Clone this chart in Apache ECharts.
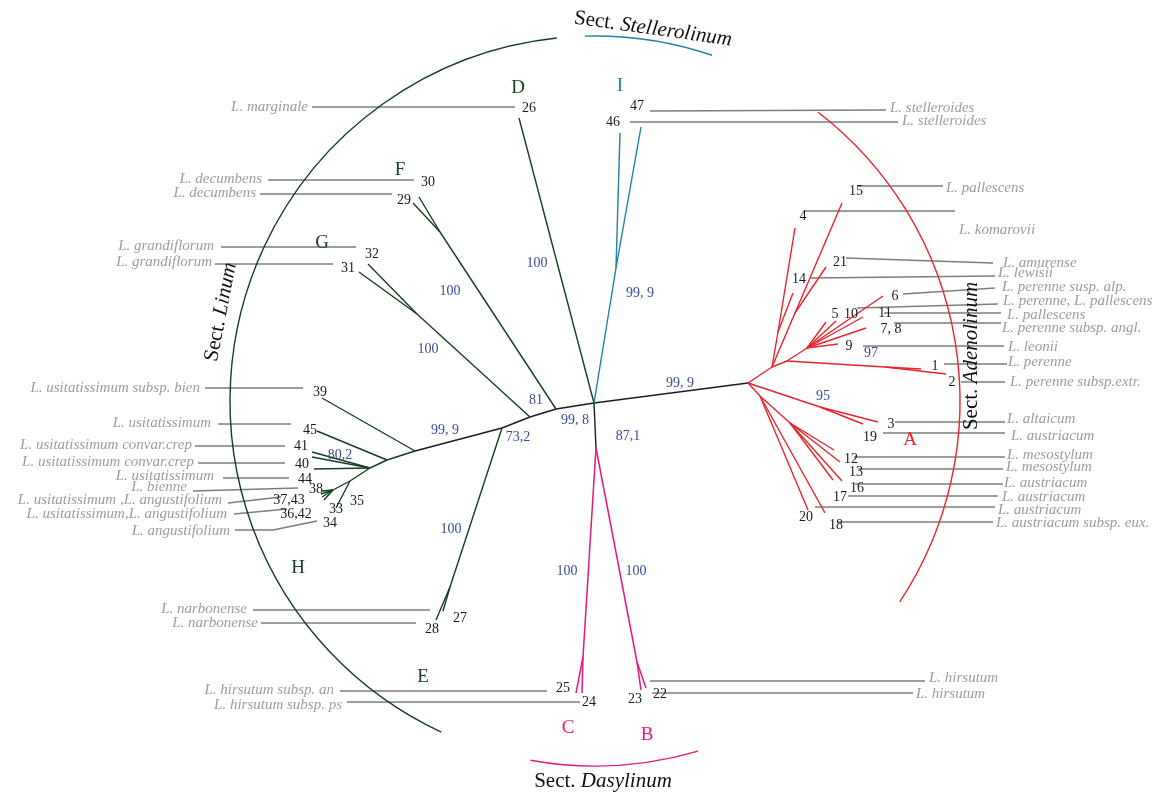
<!DOCTYPE html>
<html>
<head>
<meta charset="utf-8">
<script src="https://cdn.jsdelivr.net/npm/echarts@6/dist/echarts.min.js"></script>
<style>
  html, body { margin: 0; padding: 0; background: #ffffff; }
  #main { width: 1155px; height: 795px; }
</style>
</head>
<body>
<div id="main"></div>
<script>
// ---------- Tree geometry: nodes are [id, x, y] (x to the right, y downward) ----------
const backboneNodes = [
  ['C0', 594, 403], ['L1', 556, 409], ['L2', 530, 417], ['L3', 502, 428],
  ['H0', 415, 451], ['A', 748, 383], ['P', 596, 448]
];
const backboneEdges = [['C0','L1'], ['L1','L2'], ['L2','L3'], ['L3','H0'], ['C0','A'], ['C0','P']];

// Sect. Linum (clades D, E, F, G, H)
const linumNodes = [
  ['T26', 519, 118],
  ['F0', 440, 232], ['T29', 413, 203], ['T30', 419, 197],
  ['G0', 417, 314], ['T31', 359, 272], ['T32', 368, 264],
  ['E0', 450, 587], ['T28', 436, 620], ['T27', 443, 611],
  ['T39', 322, 398], ['H1', 387, 460], ['T45', 317, 431], ['H2', 370, 468],
  ['T41', 312, 452], ['T40', 312, 457], ['T44', 314, 469], ['H3', 350, 481],
  ['H4', 333, 490], ['T35', 336, 508],
  ['T38', 322, 491], ['T37', 321, 494], ['T36', 322, 497], ['T34', 324, 500]
];
const linumEdges = [
  ['C0','T26'], ['L1','F0'], ['F0','T29'], ['F0','T30'],
  ['L2','G0'], ['G0','T31'], ['G0','T32'],
  ['L3','E0'], ['E0','T28'], ['E0','T27'],
  ['H0','T39'], ['H0','H1'], ['H1','T45'], ['H1','H2'],
  ['H2','T41'], ['H2','T40'], ['H2','T44'], ['H2','H3'],
  ['H3','H4'], ['H3','T35'],
  ['H4','T38'], ['H4','T37'], ['H4','T36'], ['H4','T34']
];

// Sect. Stellerolinum (clade I)
const stelleroNodes = [['I0', 616, 268], ['T46', 620, 133], ['T47', 641, 127]];
const stelleroEdges = [['C0','I0'], ['I0','T46'], ['I0','T47']];

// Sect. Dasylinum (clades B, C)
const dasyNodes = [
  ['Cc', 583, 657], ['T25', 576, 693], ['T24', 582, 693],
  ['Bb', 637, 662], ['T23', 641, 690], ['T22', 646, 688]
];
const dasyEdges = [['P','Cc'], ['Cc','T25'], ['Cc','T24'], ['P','Bb'], ['Bb','T23'], ['Bb','T22']];

// Sect. Adenolinum (clade A)
const adenoNodes = [
  ['A1', 772, 367], ['K4', 778, 332], ['T4', 795, 228], ['T14', 793, 293],
  ['K15', 795, 313], ['T15', 842, 203], ['T21', 826, 267],
  ['D1', 787, 361], ['N12', 885, 367], ['T1', 921, 369], ['T2', 946, 374],
  ['F1', 807, 348], ['T5', 826, 322], ['T10', 836, 321], ['T11', 863, 317],
  ['T78', 866, 328], ['T6', 883, 296], ['T9', 838, 344],
  ['S1', 820, 407], ['T3', 878, 422], ['T19', 863, 424],
  ['A2', 760, 396], ['T20', 808, 510], ['T18', 825, 513],
  ['A3', 790, 423], ['T12', 834, 450], ['T13', 840, 462], ['T16', 833, 480], ['T17', 842, 481]
];
const adenoEdges = [
  ['A','A1'], ['A1','K4'], ['K4','T4'], ['K4','T14'],
  ['A1','K15'], ['K15','T15'], ['K15','T21'],
  ['A1','D1'], ['D1','N12'], ['N12','T1'], ['N12','T2'],
  ['D1','F1'], ['F1','T5'], ['F1','T10'], ['F1','T11'], ['F1','T78'], ['F1','T6'], ['F1','T9'],
  ['A','S1'], ['S1','T3'], ['S1','T19'],
  ['A','A2'], ['A2','T20'], ['A2','T18'], ['A2','A3'],
  ['A3','T12'], ['A3','T13'], ['A3','T16'], ['A3','T17']
];

// ---------- Leader lines from accession numbers to taxon names ----------
const leaderLines = [
  [[312,107],[515,107]], [[268,180],[414,180]], [[260,194],[392,194]],
  [[221,247],[356,247]], [[215,264],[333,264]],
  [[205,388],[303,388]], [[218,424],[291,424]], [[195,446],[285,446]], [[198,463],[285,463]],
  [[223,478],[289,478]], [[193,491],[298,488]], [[228,503],[281,497]], [[234,514],[287,509]],
  [[235,530],[273,530],[317,521]],
  [[253,610],[430,610]], [[261,623],[416,623]],
  [[340,691],[547,691]], [[347,702],[580,702]],
  [[650,111],[886,110]], [[630,122],[898,122]],
  [[858,186],[943,186]], [[805,211],[955,211]], [[846,258],[993,263]], [[810,278],[995,276]],
  [[903,294],[995,288]], [[857,308],[998,304]], [[884,313],[1001,313]], [[894,323],[1001,323]],
  [[863,346],[1004,346]], [[944,364],[1007,364]], [[961,382],[1005,382]],
  [[895,422],[1005,422]], [[883,433],[1005,433]], [[854,457],[1005,457]], [[858,469],[1003,469]],
  [[855,484],[1003,484]], [[848,496],[998,496]], [[815,507],[995,507]], [[838,522],[993,522]],
  [[650,681],[925,681]], [[652,693],[913,693]]
];

// Accession numbers [label, x, y]
const accessionLabels = [
  ['26',529,108], ['30',428,182], ['29',404,200], ['32',372,254], ['31',348,268],
  ['39',320,392], ['45',310,430], ['41',301,446], ['40',302,464], ['44',305,479],
  ['38',316,489], ['37,43',289,500], ['36,42',296,514], ['35',357,501], ['33',336,509], ['34',330,523],
  ['27',460,618], ['28',432,629], ['25',563,688], ['24',589,702], ['23',635,699], ['22',660,694],
  ['47',637,106], ['46',613,122], ['15',856,191], ['4',803,216], ['21',840,262], ['14',799,279],
  ['6',895,296], ['5',835,314], ['10',851,314], ['11',885,313], ['7, 8',891,329], ['9',849,346],
  ['1',935,366], ['2',952,382], ['3',891,424], ['19',870,437], ['12',851,459], ['13',856,472],
  ['16',857,488], ['17',840,497], ['20',806,517], ['18',836,525]
];

// Taxon names, left side (right-aligned) and right side (left-aligned)
const taxaLeft = [
  ['L. marginale',308,107], ['L. decumbens',262,179], ['L. decumbens',256,193],
  ['L. grandiflorum',214,246], ['L. grandiflorum',212,262],
  ['L. usitatissimum subsp. bien',200,388], ['L. usitatissimum',211,423],
  ['L. usitatissimum convar.crep',192,445], ['L. usitatissimum convar.crep',194,462],
  ['L. usitatissimum',214,476], ['L. bienne',187,487],
  ['L. usitatissimum ,L. angustifolium',222,500], ['L. usitatissimum,L. angustifolium',227,514],
  ['L. angustifolium',230,531], ['L. narbonense',247,609], ['L. narbonense',258,623],
  ['L. hirsutum subsp. an',334,690], ['L. hirsutum subsp. ps',342,705]
];
const taxaRight = [
  ['L. stelleroides',890,108], ['L. stelleroides',902,121], ['L. pallescens',946,188],
  ['L. komarovii',959,230], ['L. amurense',1003,263], ['L. lewisii',998,273],
  ['L. perenne susp. alp.',1002,287], ['L. perenne, L. pallescens',1003,301],
  ['L. pallescens',1007,315], ['L. perenne subsp. angl.',1002,328], ['L. leonii',1008,347],
  ['L. perenne',1008,362], ['L. perenne subsp.extr.',1010,382], ['L. altaicum',1007,419],
  ['L. austriacum',1011,436], ['L. mesostylum',1007,455], ['L. mesostylum',1006,467],
  ['L. austriacum',1004,483], ['L. austriacum',1002,497], ['L. austriacum',998,510],
  ['L. austriacum subsp. eux.',996,523], ['L. hirsutum',929,678], ['L. hirsutum',916,694]
];

// Bootstrap support values
const supportValues = [
  ['100',537,263], ['99, 9',640,293], ['100',450,291], ['100',428,349], ['81',536,400],
  ['99, 8',575,420], ['73,2',518,437], ['87,1',628,436], ['99, 9',445,430], ['80,2',340,455],
  ['100',451,529], ['100',567,571], ['100',636,571], ['99, 9',680,383], ['97',871,353], ['95',823,396]
];

// Clade letters [letter, x, y, section]
const cladeLetters = [
  ['D',518,88,'linum'], ['F',400,170,'linum'], ['G',322,243,'linum'], ['H',298,568,'linum'],
  ['E',423,677,'linum'], ['I',620,86,'stellero'], ['C',568,728,'dasy'], ['B',647,735,'dasy'],
  ['A',910,440,'adeno']
];

// Section brackets: [section, cx, cy, r, startDeg, endDeg] (angles clockwise from +x, screen)
const sectionArcs = [
  ['linum', 595, 401, 365, 114.9, 264.0],
  ['stellero', 595, 401, 365, 268.4, 288.7],
  ['adeno', 595, 401, 365, 307.7, 393.4],
  ['dasy', 595, 401, 365, 73.6, 100.2]
];

// Section titles [prefix, italic name, x, y, rotationDeg]
const sectionTitles = [
  ['Sect. ', 'Stellerolinum', 653, 29, -8],
  ['Sect. ', 'Linum', 221, 312, 79],
  ['Sect. ', 'Adenolinum', 971, 356, 90],
  ['Sect. ', 'Dasylinum', 603, 781, 0]
];

// ---------- Styling ----------
const palette = {
  backbone: '#1c1c1c', linum: '#143f22', stellero: '#1a85a3', adeno: '#e8242c', dasy: '#e2197f',
  leader: '#7d7d7d', taxon: '#9c9c9c', number: '#1a1a1a', support: '#3a4b9f'
};
const serif = '"Liberation Serif", "DejaVu Serif", serif';

function edgeData(nodeLists, edges) {
  const pos = {};
  nodeLists.forEach(list => list.forEach(n => { pos[n[0]] = [n[1], n[2]]; }));
  return edges.map(e => ({ coords: [pos[e[0]], pos[e[1]]] }));
}
const allNodes = [backboneNodes, linumNodes, stelleroNodes, dasyNodes, adenoNodes];

function branchSeries(edges, color, width) {
  return {
    type: 'lines', coordinateSystem: 'cartesian2d', silent: true, animation: false,
    polyline: true, z: 3,
    lineStyle: { color: color, width: width, opacity: 1 },
    data: edgeData(allNodes, edges)
  };
}

function textSeries(items, font, color, align, z) {
  return {
    type: 'custom', coordinateSystem: 'cartesian2d', silent: true, animation: false, clip: false, z: z || 5,
    data: items.map(d => [d[1], d[2]]),
    renderItem: function (params, api) {
      const d = items[params.dataIndex];
      const p = api.coord([api.value(0), api.value(1)]);
      return {
        type: 'text', x: p[0], y: p[1],
        style: { text: d[0], font: font, fill: typeof color === 'function' ? color(d) : color,
                 align: align, verticalAlign: 'middle' }
      };
    }
  };
}

const arcSeries = {
  type: 'custom', coordinateSystem: 'cartesian2d', silent: true, animation: false, clip: false, z: 2,
  data: sectionArcs.map(a => [a[1], a[2], a[3], a[4], a[5]]),
  renderItem: function (params, api) {
    const a = sectionArcs[params.dataIndex];
    const c = api.coord([api.value(0), api.value(1)]);
    const r = api.size([api.value(2), 0])[0];
    return {
      type: 'arc',
      shape: { cx: c[0], cy: c[1], r: r,
               startAngle: api.value(3) * Math.PI / 180, endAngle: api.value(4) * Math.PI / 180, clockwise: true },
      style: { stroke: palette[a[0]], lineWidth: 1.4, fill: null }
    };
  }
};

const titleSeries = {
  type: 'custom', coordinateSystem: 'cartesian2d', silent: true, animation: false, clip: false, z: 6,
  data: sectionTitles.map(t => [t[2], t[3]]),
  renderItem: function (params, api) {
    const t = sectionTitles[params.dataIndex];
    const p = api.coord([api.value(0), api.value(1)]);
    return {
      type: 'text', x: p[0], y: p[1], rotation: t[4] * Math.PI / 180,
      style: {
        text: '{a|' + t[0] + '}{b|' + t[1] + '}',
        align: 'center', verticalAlign: 'middle',
        rich: {
          a: { font: '21px ' + serif, fill: '#111111' },
          b: { font: 'italic 21px ' + serif, fill: '#111111' }
        }
      }
    };
  }
};

const leaderSeries = {
  type: 'lines', coordinateSystem: 'cartesian2d', silent: true, animation: false, polyline: true, z: 1,
  lineStyle: { color: palette.leader, width: 1.5, opacity: 1 },
  data: leaderLines.map(l => ({ coords: l }))
};

const chart = echarts.init(document.getElementById('main'), null, { renderer: 'canvas' });
chart.setOption({
  backgroundColor: '#ffffff',
  animation: false,
  grid: { left: 0, right: 0, top: 0, bottom: 0 },
  xAxis: { type: 'value', min: 0, max: 1155, show: false },
  yAxis: { type: 'value', min: 0, max: 795, inverse: true, show: false },
  series: [
    arcSeries,
    leaderSeries,
    branchSeries(backboneEdges, palette.backbone, 1.4),
    branchSeries(linumEdges, palette.linum, 1.4),
    branchSeries(stelleroEdges, palette.stellero, 1.4),
    branchSeries(dasyEdges, palette.dasy, 1.5),
    branchSeries(adenoEdges, palette.adeno, 1.4),
    textSeries(taxaLeft, 'italic 15px ' + serif, palette.taxon, 'right'),
    textSeries(taxaRight, 'italic 15px ' + serif, palette.taxon, 'left'),
    textSeries(accessionLabels, '14px ' + serif, palette.number, 'center'),
    textSeries(supportValues, '14px ' + serif, palette.support, 'center'),
    textSeries(cladeLetters, '19px ' + serif, d => palette[d[3]], 'center'),
    titleSeries
  ]
});
</script>
</body>
</html>
